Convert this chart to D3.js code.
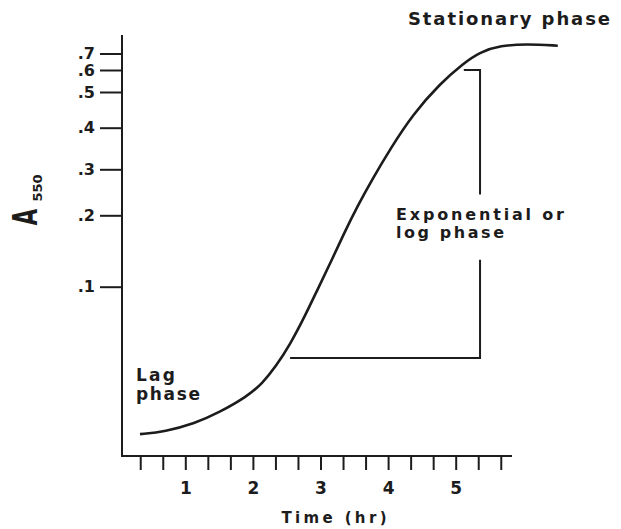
<!DOCTYPE html>
<html>
<head>
<meta charset="utf-8">
<script src="https://cdn.jsdelivr.net/npm/d3@7"></script>
<style>
body { margin: 0; background: #fff; }
text { font-family: "DejaVu Sans", sans-serif; font-weight: bold; fill: #1c1c1c; }
</style>
</head>
<body>
<div id="chart"></div>
<script>
// Growth curve: time (hr) and absorbance at 550 nm
const timeHr = [0.33, 0.70, 1.14, 1.50, 1.91, 2.14, 2.34, 2.55, 2.76, 2.96, 3.16, 3.35, 3.54, 3.76, 4.03, 4.37, 4.77, 5.11, 5.36, 5.66, 6.06, 6.51];
const absorbance = [0.0239, 0.0245, 0.0265, 0.0295, 0.0344, 0.0391, 0.0461, 0.0571, 0.0742, 0.0978, 0.1283, 0.1684, 0.2152, 0.2730, 0.3452, 0.4358, 0.5365, 0.6375, 0.7100, 0.7543, 0.7650, 0.7529];

// Axis ticks
const yTickValues = [0.1, 0.2, 0.3, 0.4, 0.5, 0.6, 0.7];
const xTickValues = d3.range(1, 18).map(k => k / 3);

// Bracket marking the exponential phase (time, absorbance)
const bracketLow = [[2.55, 0.05], [5.36, 0.05], [5.36, 0.13]];
const bracketHigh = [[5.36, 0.24], [5.36, 0.6], [5.12, 0.6]];

const W = 621, H = 529;
const ink = "#1c1c1c";

const svg = d3.select("#chart")
    .append("svg")
    .attr("width", W)
    .attr("height", H);

// x: hours, y: log absorbance (hand drawn axis, so the decades are a bit uneven)
const x = d3.scaleLinear()
    .domain([0, 6])
    .range([117.7, 523.3]);

const y = d3.scaleLog()
    .domain(yTickValues)
    .range([286.7, 215.3, 169.3, 127.7, 92, 70, 53.5]);

// Frame
svg.append("path")
    .attr("d", "M122,35V456H512")
    .attr("fill", "none")
    .attr("stroke", ink)
    .attr("stroke-width", 2);

// Y axis ticks
const yAxis = svg.append("g")
    .attr("transform", "translate(122,0)")
    .call(d3.axisLeft(y)
        .tickValues(yTickValues)
        .tickSize(22)
        .tickPadding(5)
        .tickFormat(d => String(d).replace("0.", ".")));
yAxis.select(".domain").remove();
yAxis.selectAll("line").attr("stroke", ink).attr("stroke-width", 2);
yAxis.selectAll("text")
    .attr("font-size", 16)
    .attr("font-family", "DejaVu Sans")
    .attr("font-weight", "bold")
    .attr("fill", ink);

// X axis ticks (every 20 min, labels on the hour)
const xAxis = svg.append("g")
    .attr("transform", "translate(0,456)")
    .call(d3.axisBottom(x)
        .tickValues(xTickValues)
        .tickSizeInner(14)
        .tickSizeOuter(0)
        .tickPadding(12)
        .tickFormat(d => Math.abs(d - Math.round(d)) < 1e-6 ? Math.round(d) : ""));
xAxis.select(".domain").remove();
xAxis.selectAll("line").attr("stroke", ink).attr("stroke-width", 2);
xAxis.selectAll("text")
    .attr("font-size", 17)
    .attr("font-family", "DejaVu Sans")
    .attr("font-weight", "bold")
    .attr("fill", ink);

// Axis titles
svg.append("text")
    .attr("x", 334)
    .attr("y", 523)
    .attr("text-anchor", "middle")
    .attr("font-size", 15)
    .attr("textLength", 105)
    .attr("lengthAdjust", "spacing")
    .text("Time (hr)");

svg.append("text")
    .attr("transform", "translate(37,217) rotate(-90) scale(0.62,1)")
    .attr("text-anchor", "middle")
    .attr("font-size", 34)
    .text("A");

svg.append("text")
    .attr("transform", "translate(42,188) rotate(-90)")
    .attr("text-anchor", "middle")
    .attr("font-size", 13)
    .text("550");

// Growth curve
const line = d3.line()
    .x(d => x(d[0]))
    .y(d => y(d[1]))
    .curve(d3.curveBasis);

svg.append("path")
    .datum(timeHr.map((t, i) => [t, absorbance[i]]))
    .attr("d", line)
    .attr("fill", "none")
    .attr("stroke", ink)
    .attr("stroke-width", 2.6);

// Bracket
const bracket = d3.line().x(d => x(d[0])).y(d => y(d[1]));
[bracketLow, bracketHigh].forEach(b => {
    svg.append("path")
        .attr("d", bracket(b))
        .attr("fill", "none")
        .attr("stroke", ink)
        .attr("stroke-width", 2);
});

// Phase labels
const labels = [
    { text: "Stationary phase", x: 408, y: 25, len: 202, size: 18 },
    { text: "Exponential or", x: 396, y: 220, len: 168, size: 16 },
    { text: "log phase", x: 396, y: 238, len: 108, size: 16 },
    { text: "Lag", x: 136, y: 381, len: 39, size: 17 },
    { text: "phase", x: 136, y: 400, len: 64, size: 17 }
];
svg.selectAll(".phase")
    .data(labels)
    .enter()
    .append("text")
    .attr("class", "phase")
    .attr("x", d => d.x)
    .attr("y", d => d.y)
    .attr("font-size", d => d.size)
    .attr("textLength", d => d.len)
    .attr("lengthAdjust", "spacing")
    .text(d => d.text);
</script>
</body>
</html>
